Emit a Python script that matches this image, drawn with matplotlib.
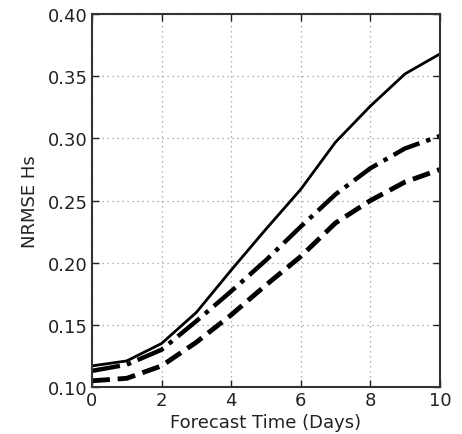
import matplotlib
matplotlib.use("Agg")
import matplotlib.pyplot as plt

days = [0, 1, 2, 3, 4, 5, 6, 7, 8, 9, 10]
nrmse_solid = [0.117, 0.121, 0.135, 0.160, 0.194, 0.227, 0.259, 0.297, 0.326, 0.352, 0.368]
nrmse_dashdot = [0.113, 0.118, 0.130, 0.153, 0.177, 0.202, 0.229, 0.255, 0.276, 0.292, 0.302]
nrmse_dashed = [0.105, 0.107, 0.117, 0.136, 0.158, 0.182, 0.205, 0.232, 0.250, 0.265, 0.275]

plt.rcParams['font.family'] = ['DejaVu Sans']
fig = plt.figure(figsize=(4.62, 4.35), dpi=100)
ax = fig.add_axes([0.199, 0.108, 0.753, 0.857])

ax.plot(days, nrmse_solid, color='black', lw=2.0, ls='-')
ax.plot(days, nrmse_dashdot, color='black', lw=3.2, ls='-.')
ax.plot(days, nrmse_dashed, color='black', lw=3.5, ls='--')

ax.set_xlim(0, 10)
ax.set_ylim(0.10, 0.40)
ax.set_xticks([0, 2, 4, 6, 8, 10])
ax.set_yticks([0.10, 0.15, 0.20, 0.25, 0.30, 0.35, 0.40])
ax.set_yticklabels(['0.10', '0.15', '0.20', '0.25', '0.30', '0.35', '0.40'])
ax.grid(True, color='#999999', ls=(0, (1, 3)), lw=0.9)
ax.tick_params(direction='in', length=5, width=1, top=True, right=True,
               labelsize=13, colors='#222222', pad=3)
for s in ax.spines.values():
    s.set_color('#333333')
    s.set_linewidth(1.5)

ax.set_xlabel('Forecast Time (Days)', fontsize=13, color='#222222', labelpad=3)
ax.set_ylabel('NRMSE Hs', fontsize=13, color='#222222', labelpad=6)

fig.savefig('out.png', dpi=100)
